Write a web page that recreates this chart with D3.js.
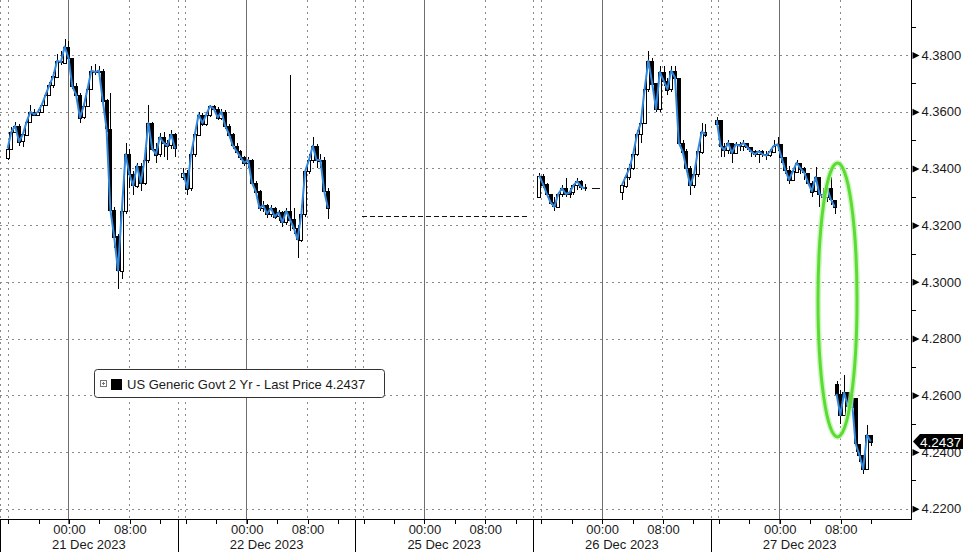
<!DOCTYPE html>
<html><head><meta charset="utf-8">
<script src="https://cdn.jsdelivr.net/npm/d3@7"></script>
<style>
body{margin:0;background:#fff}
svg{display:block;font-family:"Liberation Sans",Arial,sans-serif}
</style>
</head><body>
<svg id="chart" width="963" height="552"></svg>
<script>
// ---------------- DATA ----------------
const dayLabels = ["21 Dec 2023", "22 Dec 2023", "25 Dec 2023", "26 Dec 2023", "27 Dec 2023"];
const timeLabelHours = [9, 17];            // hours after the 15:00 session open
const timeLabelText = ["00:00", "08:00"];
const minorTickHours = [1, 5, 9, 13, 17, 21]; // 16:00 20:00 00:00 04:00 08:00 12:00
const dashedGridHours = [0, 1, 17];
const midnightHour = 9;
const sessionHours = 23.35;
const barHours = 0.5;

const yTickValues = [4.22, 4.24, 4.26, 4.28, 4.30, 4.32, 4.34, 4.36, 4.38];
const yMinorValues = [4.23, 4.25, 4.27, 4.29, 4.31, 4.33, 4.35, 4.37, 4.39];
const yDomain = [4.2162, 4.3994];

// 21 Dec
const s1Start = 1.0, s1Open = 4.3440;
const s1Close = [4.3470,4.3530,4.3550,4.3495,4.3520,4.3565,4.3600,4.3590,4.3600,4.3625,4.3660,4.3695,4.3725,4.3780,4.3775,4.3830,4.3790,4.3690,4.3660,4.3580,4.3620,4.3680,4.3745,4.3740,4.3745,4.3640,4.3540,4.3255,4.3160,4.3040,4.3250,4.3450,4.3380,4.3340,4.3410,4.3350,4.3430,4.3560,4.3470,4.3450,4.3510,4.3490,4.3480,4.3520,4.3470];
const s1High  = [4.3485,4.3545,4.3565,4.3555,4.3530,4.3575,4.3625,4.3610,4.3610,4.3635,4.3670,4.3705,4.3740,4.3805,4.3815,4.3855,4.3850,4.3790,4.3700,4.3665,4.3630,4.3695,4.3760,4.3770,4.3760,4.3750,4.3645,4.3665,4.3265,4.3170,4.3260,4.3490,4.3470,4.3390,4.3420,4.3420,4.3440,4.3625,4.3565,4.3490,4.3525,4.3530,4.3500,4.3535,4.3525];
const s1Low   = [4.3430,4.3465,4.3525,4.3480,4.3475,4.3515,4.3560,4.3585,4.3585,4.3595,4.3620,4.3655,4.3685,4.3720,4.3765,4.3770,4.3780,4.3680,4.3640,4.3560,4.3575,4.3615,4.3675,4.3730,4.3730,4.3630,4.3530,4.3240,4.3120,4.2975,4.3010,4.3240,4.3330,4.3305,4.3330,4.3320,4.3340,4.3420,4.3460,4.3420,4.3440,4.3440,4.3430,4.3470,4.3440];

// 22 Dec
const s2Start = 0.75, s2Open = 4.3370;
const s2Close = [4.3385,4.3330,4.3450,4.3520,4.3590,4.3560,4.3590,4.3620,4.3610,4.3580,4.3600,4.3550,4.3520,4.3480,4.3460,4.3440,4.3420,4.3430,4.3350,4.3320,4.3260,4.3270,4.3240,4.3260,4.3230,4.3245,4.3210,4.3250,4.3220,4.3190,4.3150,4.3240,4.3390,4.3430,4.3480,4.3430,4.3430,4.3320,4.3260];
const s2High  = [4.3400,4.3395,4.3460,4.3530,4.3600,4.3595,4.3600,4.3625,4.3625,4.3615,4.3610,4.3605,4.3555,4.3525,4.3490,4.3465,4.3445,4.3440,4.3435,4.3355,4.3325,4.3285,4.3275,4.3270,4.3265,4.3255,4.3250,4.3260,4.3730,4.3260,4.3200,4.3270,4.3400,4.3450,4.3510,4.3485,4.3450,4.3440,4.3330];
const s2Low   = [4.3360,4.3305,4.3320,4.3440,4.3515,4.3550,4.3550,4.3580,4.3600,4.3570,4.3570,4.3540,4.3510,4.3470,4.3450,4.3430,4.3410,4.3400,4.3340,4.3300,4.3250,4.3245,4.3225,4.3230,4.3220,4.3215,4.3195,4.3200,4.3180,4.3170,4.3085,4.3140,4.3230,4.3380,4.3420,4.3400,4.3400,4.3310,4.3220];

// 25 Dec (holiday, last price held)
const holidayLevel = 4.3232, holidayFrom = 0.85, holidayTo = 22.7;

// 26 Dec, early block
const s4aStart = 0.8, s4aOpen = 4.3300;
const s4aClose = [4.3375,4.3345,4.3310,4.3280,4.3265,4.3310,4.3330,4.3310,4.3315,4.3340,4.3355,4.3335,4.3330];
const s4aHigh  = [4.3385,4.3380,4.3350,4.3310,4.3300,4.3315,4.3340,4.3365,4.3330,4.3345,4.3365,4.3360,4.3345];
const s4aLow   = [4.3298,4.3330,4.3300,4.3270,4.3250,4.3260,4.3300,4.3300,4.3295,4.3305,4.3325,4.3325,4.3320];
const flat26Level = 4.3332, flat26From = 7.7, flat26To = 8.8;

// 26 Dec, main block
const s4bStart = 11.65, s4bOpen = 4.3315;
const s4bClose = [4.3340,4.3370,4.3400,4.3450,4.3520,4.3560,4.3680,4.3780,4.3700,4.3610,4.3740,4.3710,4.3680,4.3745,4.3720,4.3490,4.3460,4.3400,4.3340,4.3380,4.3460,4.3530,4.3520];
const s4bHigh  = [4.3345,4.3380,4.3415,4.3470,4.3535,4.3590,4.3700,4.3815,4.3790,4.3700,4.3760,4.3760,4.3720,4.3760,4.3760,4.3720,4.3500,4.3470,4.3410,4.3400,4.3470,4.3560,4.3555];
const s4bLow   = [4.3290,4.3330,4.3360,4.3395,4.3445,4.3490,4.3560,4.3670,4.3690,4.3600,4.3600,4.3690,4.3660,4.3670,4.3700,4.3480,4.3440,4.3390,4.3305,4.3330,4.3370,4.3450,4.3510];

// 27 Dec, before the drop
const s5aStart = 0.78, s5aOpen = 4.3555;
const s5aClose = [4.3570,4.3480,4.3465,4.3490,4.3455,4.3485,4.3480,4.3490,4.3475,4.3460,4.3450,4.3460,4.3450,4.3445,4.3460,4.3480,4.3485,4.3440,4.3395,4.3360,4.3390,4.3420,4.3400,4.3385,4.3350,4.3320,4.3370,4.3310,4.3300,4.3330,4.3290,4.3265];
const s5aHigh  = [4.3580,4.3530,4.3490,4.3500,4.3490,4.3495,4.3495,4.3500,4.3490,4.3475,4.3465,4.3465,4.3465,4.3460,4.3470,4.3500,4.3510,4.3480,4.3440,4.3410,4.3400,4.3430,4.3420,4.3405,4.3380,4.3355,4.3405,4.3370,4.3330,4.3340,4.3370,4.3290];
const s5aLow   = [4.3540,4.3440,4.3440,4.3450,4.3420,4.3450,4.3460,4.3460,4.3465,4.3440,4.3440,4.3420,4.3440,4.3430,4.3440,4.3455,4.3460,4.3420,4.3380,4.3345,4.3360,4.3385,4.3380,4.3360,4.3340,4.3300,4.3330,4.3265,4.3270,4.3280,4.3270,4.3240];

// 27 Dec, after the drop
const s5bStart = 16.52, s5bOpen = 4.2640;
const s5bClose = [4.2605,4.2530,4.2610,4.2560,4.2590,4.2430,4.2390,4.2340,4.2460,4.2437];
const s5bHigh  = [4.2650,4.2620,4.2670,4.2590,4.2610,4.2480,4.2410,4.2370,4.2497,4.2460];
const s5bLow   = [4.2590,4.2500,4.2555,4.2540,4.2545,4.2400,4.2365,4.2322,4.2335,4.2420];

const lastPrice = 4.2437;
const seriesName = "US Generic Govt 2 Yr - Last Price";

// ---------------- BUILD ----------------
function makeRun(seg, start, open0, closes, highs, lows) {
  return closes.map((c, i) => ({
    t: seg * sessionHours + start + i * barHours,
    o: i === 0 ? open0 : closes[i - 1],
    h: highs[i], l: lows[i], c: c
  }));
}
const runs = [
  makeRun(0, s1Start, s1Open, s1Close, s1High, s1Low),
  makeRun(1, s2Start, s2Open, s2Close, s2High, s2Low),
  makeRun(3, s4aStart, s4aOpen, s4aClose, s4aHigh, s4aLow),
  makeRun(3, s4bStart, s4bOpen, s4bClose, s4bHigh, s4bLow),
  makeRun(4, s5aStart, s5aOpen, s5aClose, s5aHigh, s5aLow),
  makeRun(4, s5bStart, s5bOpen, s5bClose, s5bHigh, s5bLow)
];

const svg = d3.select("#chart");
const plotRight = 911.5, plotBottom = 519.5;
const pxPerHour = 177.7 / sessionHours;
const x = d3.scaleLinear().domain([0, plotRight / pxPerHour]).range([0, plotRight]);
const y = d3.scaleLinear().domain(yDomain).range([plotBottom, 0]);

svg.append("rect").attr("width", 963).attr("height", 552).attr("fill", "#fff");

const grid = svg.append("g").attr("shape-rendering", "crispEdges");
grid.selectAll(".hg").data(yTickValues).join("line")
  .attr("x1", 0).attr("x2", plotRight)
  .attr("y1", d => Math.round(y(d)) + 0.5).attr("y2", d => Math.round(y(d)) + 0.5)
  .attr("stroke", "#8a8a8a").attr("stroke-dasharray", "2,4");
const segIdx = d3.range(dayLabels.length);
const vDashed = segIdx.flatMap(k => dashedGridHours.map(h => k * sessionHours + h));
grid.selectAll(".vg").data(vDashed).join("line")
  .attr("x1", d => Math.round(x(d)) + 0.5).attr("x2", d => Math.round(x(d)) + 0.5)
  .attr("y1", 0).attr("y2", plotBottom)
  .attr("stroke", "#8a8a8a").attr("stroke-dasharray", "2,4");
grid.selectAll(".vm").data(segIdx.map(k => k * sessionHours + midnightHour)).join("line")
  .attr("x1", d => Math.round(x(d)) + 0.5).attr("x2", d => Math.round(x(d)) + 0.5)
  .attr("y1", 0).attr("y2", plotBottom + 4)
  .attr("stroke", "#6e6e6e");

// flat price lines
svg.append("line")
  .attr("x1", x(2 * sessionHours + holidayFrom)).attr("x2", x(2 * sessionHours + holidayTo))
  .attr("y1", Math.round(y(holidayLevel)) + 0.5).attr("y2", Math.round(y(holidayLevel)) + 0.5)
  .attr("stroke", "#111").attr("stroke-dasharray", "5,3").attr("shape-rendering", "crispEdges");
svg.append("line")
  .attr("x1", x(3 * sessionHours + flat26From)).attr("x2", x(3 * sessionHours + flat26To))
  .attr("y1", Math.round(y(flat26Level)) + 0.5).attr("y2", Math.round(y(flat26Level)) + 0.5)
  .attr("stroke", "#111").attr("shape-rendering", "crispEdges");

// candles
const bars = runs.flat();
const cg = svg.append("g").attr("shape-rendering", "crispEdges");
cg.selectAll(".wick").data(bars).join("line")
  .attr("x1", d => Math.round(x(d.t)) + 0.5).attr("x2", d => Math.round(x(d.t)) + 0.5)
  .attr("y1", d => y(Math.max(d.h, d.o, d.c))).attr("y2", d => y(Math.min(d.l, d.o, d.c)))
  .attr("stroke", "#000");
cg.selectAll(".body").data(bars).join("rect")
  .attr("x", d => Math.round(x(d.t)) - 1.5).attr("width", 3)
  .attr("y", d => Math.round(y(Math.max(d.o, d.c))) + 0.5)
  .attr("height", d => Math.max(1, Math.round(Math.abs(y(d.o) - y(d.c)))))
  .attr("fill", d => d.c >= d.o ? "#fff" : "#000")
  .attr("stroke", "#000");

// blue close line
const line = d3.line().x(d => x(d.t)).y(d => y(d.c));
svg.selectAll(".cl").data(runs).join("path")
  .attr("d", line).attr("fill", "none")
  .attr("stroke", "#3388dd").attr("stroke-width", 2).attr("stroke-linejoin", "round");

// green ellipse
svg.append("ellipse").attr("cx", 837.5).attr("cy", 300).attr("rx", 19.5).attr("ry", 137)
  .attr("fill", "none").attr("stroke", "#b9f2a6").attr("stroke-width", 6).attr("opacity", 0.7);
svg.append("ellipse").attr("cx", 837.5).attr("cy", 300).attr("rx", 19.5).attr("ry", 137)
  .attr("fill", "none").attr("stroke", "#5bdc33").attr("stroke-width", 3);

// axes
const axisG = svg.append("g").attr("shape-rendering", "crispEdges");
axisG.append("line").attr("x1", 0).attr("x2", plotRight).attr("y1", plotBottom).attr("y2", plotBottom).attr("stroke", "#000");
axisG.append("line").attr("x1", plotRight).attr("x2", plotRight).attr("y1", 0).attr("y2", plotBottom).attr("stroke", "#000");
axisG.selectAll(".sep").data(segIdx.map(k => k * sessionHours)).join("line")
  .attr("x1", d => Math.round(x(d)) + 0.5).attr("x2", d => Math.round(x(d)) + 0.5)
  .attr("y1", plotBottom).attr("y2", 552).attr("stroke", "#000");

const xTickVals = segIdx.flatMap(k => minorTickHours.map(h => k * sessionHours + h));
const xAxis = d3.axisBottom(x).tickValues(xTickVals).tickSize(4).tickPadding(1.5)
  .tickFormat(d => {
    const h = Math.round((d % sessionHours) * 100) / 100;
    const j = timeLabelHours.indexOf(h);
    return j >= 0 ? timeLabelText[j] : "";
  });
const xa = svg.append("g").attr("transform", `translate(0.5,${plotBottom})`).call(xAxis);
xa.select(".domain").remove();
xa.selectAll("line").attr("stroke", "#000").attr("shape-rendering", "crispEdges");
xa.selectAll("text").attr("font-size", 13).attr("fill", "#1a1a1a").attr("font-family", "Liberation Sans, Arial, sans-serif");

svg.selectAll(".day").data(dayLabels).join("text")
  .attr("x", (d, k) => x(k * sessionHours + sessionHours / 2))
  .attr("y", 549).attr("text-anchor", "middle")
  .attr("font-size", 13).attr("fill", "#1a1a1a").text(d => d);

const yAxis = d3.axisRight(y).tickValues(yTickValues).tickSize(0).tickPadding(10).tickFormat(d3.format(".4f"));
const ya = svg.append("g").attr("transform", `translate(${plotRight},0)`).call(yAxis);
ya.select(".domain").remove();
ya.selectAll("text").attr("font-size", 13).attr("fill", "#1a1a1a").attr("font-family", "Liberation Sans, Arial, sans-serif");
ya.selectAll(".tick").append("path").attr("d", "M1,-3.5L8,0L1,3.5Z").attr("fill", "#000");
const yMinor = d3.axisRight(y).tickValues(yMinorValues).tickSize(4).tickFormat("");
const ym = svg.append("g").attr("transform", `translate(${plotRight},0)`).call(yMinor);
ym.select(".domain").remove();
ym.selectAll("line").attr("stroke", "#000").attr("shape-rendering", "crispEdges");

// last price tag
const ty = y(lastPrice);
svg.append("path")
  .attr("d", `M913,${ty}L920,${ty - 7.5}L963,${ty - 7.5}L963,${ty + 7.5}L920,${ty + 7.5}Z`)
  .attr("fill", "#000");
svg.append("text").attr("x", 920).attr("y", ty + 5).attr("font-size", 13.5)
  .attr("fill", "#fff").text(d3.format(".4f")(lastPrice));

// legend
const lg = svg.append("g");
lg.append("rect").attr("x", 94.5).attr("y", 369.5).attr("width", 290).attr("height", 28).attr("rx", 3)
  .attr("fill", "#fff").attr("stroke", "#333");
lg.append("rect").attr("x", 100.5).attr("y", 380.5).attr("width", 6).attr("height", 6)
  .attr("fill", "#fff").attr("stroke", "#777").attr("shape-rendering", "crispEdges");
lg.append("path").attr("d", "M102,383.5H105M103.5,382V385").attr("stroke", "#777").attr("shape-rendering", "crispEdges");
lg.append("rect").attr("x", 111).attr("y", 379).attr("width", 11).attr("height", 11).attr("fill", "#000");
lg.append("text").attr("x", 127).attr("y", 389).attr("font-size", 13).attr("fill", "#1a1a1a")
  .text(seriesName + " " + d3.format(".4f")(lastPrice));
</script>
</body></html>
